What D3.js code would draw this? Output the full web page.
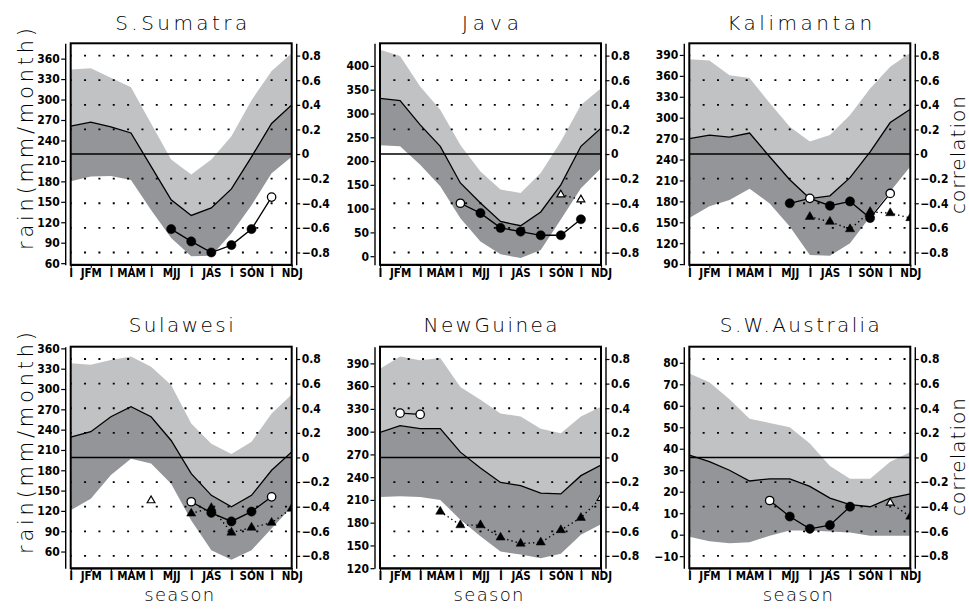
<!DOCTYPE html>
<html><head><meta charset="utf-8">
<script src="https://cdn.jsdelivr.net/npm/d3@7"></script>
<style>
body{margin:0;background:#fff;}
svg{display:block;}
.tl{font-family:"Liberation Sans Narrow","DejaVu Sans Condensed","Liberation Sans",Arial,sans-serif;font-size:12px;font-weight:bold;fill:#000;}
.big{font-family:"DejaVu Sans",sans-serif;font-weight:200;fill:#000;}
</style></head><body>
<svg id="chart" width="969" height="611"></svg>
<script>
// ---------------- data ----------------
const seasons = ["DJF","JFM","FMA","MAM","AMJ","MJJ","JJA","JAS","ASO","SON","OND","NDJ"];
const xTickLabels = ["I","JFM","I","MAM","I","MJJ","I","JAS","I","SON","I","NDJ"];
const corrTicks = [-0.8,-0.6,-0.4,-0.2,0,0.2,0.4,0.6,0.8];
const regionNames = ["S.Sumatra","Java","Kalimantan","Sulawesi","NewGuinea","S.W.Australia"];

// rainfall: mean + 1sd (upper), mean, mean - 1sd (lower)  [mm/month]
const sumatraUpper = [344,346,332,318,265,212,190,212,246,299,342,368];
const sumatraMean  = [261,267,260,251,202,153,130,141,169,216,265,292];
const sumatraLower = [180,187,188,182,138, 97, 70, 71,104,145,192,216];
const sumatraCorr  = [null,null,null,null,null,-0.61,-0.71,-0.80,-0.74,-0.61,-0.35,null];
const sumatraCorrSig = [0,0,0,0,0,1,1,1,1,1,0,0];
const sumatraTri   = [null,null,null,null,null,null,null,null,null,null,null,null];
const sumatraTriSig= [0,0,0,0,0,0,0,0,0,0,0,0];
const sumatraTicks = [60,90,120,150,180,210,240,270,300,330,360];

const javaUpper = [434,421,357,308,234,178,140,133,175,241,318,353];
const javaMean  = [332,327,276,231,154,112, 73, 64, 93,150,231,269];
const javaLower = [233,231,192,147, 80, 31,  4, -4, 13, 77,143,185];
const javaCorr  = [null,null,null,null,-0.40,-0.48,-0.60,-0.63,-0.66,-0.66,-0.53,null];
const javaCorrSig = [0,0,0,0,0,1,1,1,1,1,1,0];
const javaTri   = [null,null,null,null,null,null,null,null,null,-0.33,-0.37,null];
const javaTriSig= [0,0,0,0,0,0,0,0,0,0,0,0];
const javaTicks = [0,50,100,150,200,250,300,350,400];

const kalimUpper = [384,382,361,357,321,287,266,275,304,342,373,393];
const kalimMean  = [270,275,272,278,244,211,184,188,214,251,293,312];
const kalimLower = [156,173,182,198,177,144,103,102,120,158,194,230];
const kalimCorr  = [null,null,null,null,null,-0.40,-0.36,-0.42,-0.385,-0.52,-0.32,null];
const kalimCorrSig = [0,0,0,0,0,1,0,1,1,1,0,0];
const kalimTri   = [null,null,null,null,null,null,-0.51,-0.55,-0.61,-0.47,-0.48,-0.52];
const kalimTriSig= [0,0,0,0,0,0,1,1,1,1,1,1];
const kalimTicks = [90,120,150,180,210,240,270,300,330,360,390];

const sulawUpper = [338,336,343,348,333,306,249,219,204,222,264,292];
const sulawMean  = [229,237,259,274,259,224,175,143,126,143,180,207];
const sulawLower = [121,138,173,197,190,160,106, 62, 48, 62, 94,126];
const sulawCorr  = [null,null,null,null,null,null,-0.36,-0.45,-0.52,-0.44,-0.32,null];
const sulawCorrSig = [0,0,0,0,0,0,0,1,1,1,0,0];
const sulawTri   = [null,null,null,null,-0.35,null,-0.455,-0.41,-0.61,-0.57,-0.53,-0.415];
const sulawTriSig= [0,0,0,0,0,0,1,1,1,1,1,1];
const sulawTicks = [60,90,120,150,180,210,240,270,300,330,360];

const guineaUpper = [383,399,394,397,359,342,324,320,304,298,320,333];
const guineaMean  = [299,308,304,304,273,252,233,229,219,218,242,256];
const guineaLower = [214,215,214,210,184,162,142,138,133,139,164,178];
const guineaCorr  = [null,0.36,0.35,null,null,null,null,null,null,null,null,null];
const guineaCorrSig = [0,0,0,0,0,0,0,0,0,0,0,0];
const guineaTri   = [null,null,null,-0.44,-0.55,-0.55,-0.65,-0.70,-0.69,-0.59,-0.49,-0.33];
const guineaTriSig= [0,0,0,1,1,1,1,1,1,1,1,0];
const guineaTicks = [120,150,180,210,240,270,300,330,360,390];

const swaUpper = [75,71,63,54,52,50,42.4,32,26,26,34,38.5];
const swaMean  = [37,34,30,25,26,26,22.5,17,14,13,17,19];
const swaLower = [-1,-3,-4,-3.5,-0.5,2,2,1.5,1,-0.5,-0.5,-0.5];
const swaCorr  = [null,null,null,null,-0.35,-0.48,-0.58,-0.55,-0.40,null,null,null];
const swaCorrSig = [0,0,0,0,0,1,1,1,1,0,0,0];
const swaTri   = [null,null,null,null,null,null,null,null,null,null,-0.37,-0.48];
const swaTriSig= [0,0,0,0,0,0,0,0,0,0,0,1];
const swaTicks = [-10,0,10,20,30,40,50,60,70,80];

// ---------------- panel table ----------------
const panels = [
 {title:regionNames[0], up:sumatraUpper, mean:sumatraMean, lo:sumatraLower, corr:sumatraCorr, sig:sumatraCorrSig, tri:sumatraTri, tsig:sumatraTriSig, ticks:sumatraTicks, dom:[57.6,382.5]},
 {title:regionNames[1], up:javaUpper, mean:javaMean, lo:javaLower, corr:javaCorr, sig:javaCorrSig, tri:javaTri, tsig:javaTriSig, ticks:javaTicks, dom:[-18.1,447.6]},
 {title:regionNames[2], up:kalimUpper, mean:kalimMean, lo:kalimLower, corr:kalimCorr, sig:kalimCorrSig, tri:kalimTri, tsig:kalimTriSig, ticks:kalimTicks, dom:[89,406.7]},
 {title:regionNames[3], up:sulawUpper, mean:sulawMean, lo:sulawLower, corr:sulawCorr, sig:sulawCorrSig, tri:sulawTri, tsig:sulawTriSig, ticks:sulawTicks, dom:[35.4,362.5]},
 {title:regionNames[4], up:guineaUpper, mean:guineaMean, lo:guineaLower, corr:guineaCorr, sig:guineaCorrSig, tri:guineaTri, tsig:guineaTriSig, ticks:guineaTicks, dom:[120,412]},
 {title:regionNames[5], up:swaUpper, mean:swaMean, lo:swaLower, corr:swaCorr, sig:swaCorrSig, tri:swaTri, tsig:swaTriSig, ticks:swaTicks, dom:[-15.6,87.5]}
];
const titleLen = [132,57,145,105,134,160];

// ---------------- layout ----------------
const colX=[70.7,380,689.3], rowY=[43.3,346.7], PW=221, PH=221.5;
const LIGHT="#c0c2c4", DARK="#939598";
const svg=d3.select("#chart");
svg.append("rect").attr("width",969).attr("height",611).attr("fill","#fff");

panels.forEach((p,k)=>{
  const col=k%3, row=Math.floor(k/3);
  const g=svg.append("g").attr("transform",`translate(${colX[col]},${rowY[row]})`);
  const x=d3.scaleLinear().domain([0,11]).range([0,PW]);
  const y=d3.scaleLinear().domain(p.dom).range([PH,0]);
  const yc=d3.scaleLinear().domain([-0.9,0.9]).range([PH,0]);
  const idx=d3.range(seasons.length);
  const cid="clip"+k;
  g.append("clipPath").attr("id",cid).append("rect").attr("width",PW).attr("height",PH);
  const inner=g.append("g").attr("clip-path",`url(#${cid})`);

  inner.append("path").datum(idx).attr("fill",LIGHT)
    .attr("d",d3.area().x(i=>x(i)).y0(i=>y(p.mean[i])).y1(i=>y(p.up[i])));
  inner.append("path").datum(idx).attr("fill",DARK)
    .attr("d",d3.area().x(i=>x(i)).y0(i=>y(p.lo[i])).y1(i=>y(p.mean[i])));

  corrTicks.filter(v=>v!==0).forEach(v=>{
    inner.append("line").attr("x1",0).attr("x2",PW).attr("y1",yc(v)).attr("y2",yc(v))
      .attr("stroke","#000").attr("stroke-width",1.8).attr("stroke-dasharray","2,12.35").attr("stroke-dashoffset",1);
  });
  inner.append("line").attr("x1",0).attr("x2",PW).attr("y1",yc(0)).attr("y2",yc(0))
    .attr("stroke","#000").attr("stroke-width",1.5);

  inner.append("path").datum(idx).attr("fill","none").attr("stroke","#000").attr("stroke-width",1.3)
    .attr("d",d3.line().x(i=>x(i)).y(i=>y(p.mean[i])));

  // triangles (dotted connection)
  inner.append("path").datum(idx).attr("fill","none").attr("stroke","#000").attr("stroke-width",1.4)
    .attr("stroke-dasharray","1.4,3")
    .attr("d",d3.line().defined(i=>p.tri[i]!==null).x(i=>x(i)).y(i=>yc(p.tri[i])));
  // circles (solid connection)
  inner.append("path").datum(idx).attr("fill","none").attr("stroke","#000").attr("stroke-width",1.3)
    .attr("d",d3.line().defined(i=>p.corr[i]!==null).x(i=>x(i)).y(i=>yc(p.corr[i])));

  const triFilled=d3.symbol().type(d3.symbolTriangle).size(36);
  const triOpen=d3.symbol().type(d3.symbolTriangle).size(26);
  idx.filter(i=>p.tri[i]!==null).forEach(i=>{
    const filled=p.tsig[i]===1;
    inner.append("path").attr("d",filled?triFilled():triOpen())
      .attr("transform",`translate(${x(i)},${yc(p.tri[i])})`)
      .attr("fill",filled?"#000":"#fff").attr("stroke","#000").attr("stroke-width",filled?0.5:1.2);
  });
  idx.filter(i=>p.corr[i]!==null).forEach(i=>{
    const filled=p.sig[i]===1;
    inner.append("circle").attr("cx",x(i)).attr("cy",yc(p.corr[i])).attr("r",filled?4.6:4.2)
      .attr("fill",filled?"#000":"#fff").attr("stroke","#000").attr("stroke-width",filled?0.5:1.3);
  });

  // frame
  g.append("rect").attr("width",PW).attr("height",PH).attr("fill","none").attr("stroke","#000").attr("stroke-width",2);

  // left axis
  const la=g.append("g").attr("transform","translate(-5.5,0)")
    .call(d3.axisLeft(y).tickValues(p.ticks).tickSize(4).tickSizeOuter(0).tickPadding(1.5).tickFormat(d3.format("d")));
  // right axis
  const ra=g.append("g").attr("transform",`translate(${PW+4.5},0)`)
    .call(d3.axisRight(yc).tickValues(corrTicks).tickSize(4).tickSizeOuter(0).tickPadding(1.5)
      .tickFormat(d=>d===0?"0":d3.format(".1f")(d)));
  // bottom axis
  const ba=g.append("g").attr("transform",`translate(0,${PH})`)
    .call(d3.axisBottom(x).tickValues(idx).tickSize(3).tickSizeOuter(0).tickPadding(1).tickFormat(i=>xTickLabels[i]));
  [la,ra,ba].forEach(a=>{
    a.select(".domain").attr("stroke","#000").attr("stroke-width",1.4);
    a.selectAll(".tick line").attr("stroke","#000").attr("stroke-width",1.2);
    a.selectAll("text").attr("class","tl").attr("font-family",null).attr("font-size",null);
  });
  ba.selectAll("text").style("font-size","11.5px");

  // title
  svg.append("text").attr("class","big").attr("x",colX[col]+PW/2).attr("y",row===0?30:332)
    .attr("text-anchor","middle").style("font-size","20px")
    .attr("textLength",titleLen[k]).attr("lengthAdjust","spacing").text(p.title);

  if(col===0){
    svg.append("text").attr("class","big")
      .attr("transform",`translate(33,${row===0?139:443}) rotate(-90)`)
      .attr("text-anchor","middle").style("font-size","21px")
      .attr("textLength",222).attr("lengthAdjust","spacing").text("rain(mm/month)");
  }
  if(col===2){
    svg.append("text").attr("class","big")
      .attr("transform",`translate(965,${row===0?155:457}) rotate(-90)`)
      .attr("text-anchor","middle").style("font-size","20px")
      .attr("textLength",118).attr("lengthAdjust","spacing").text("correlation");
  }
  if(row===1){
    svg.append("text").attr("class","big").attr("x",colX[col]+PW/2 - 2).attr("y",601)
      .attr("text-anchor","middle").style("font-size","18px")
      .attr("textLength",70).attr("lengthAdjust","spacing").text("season");
  }
});
</script>
</body></html>
